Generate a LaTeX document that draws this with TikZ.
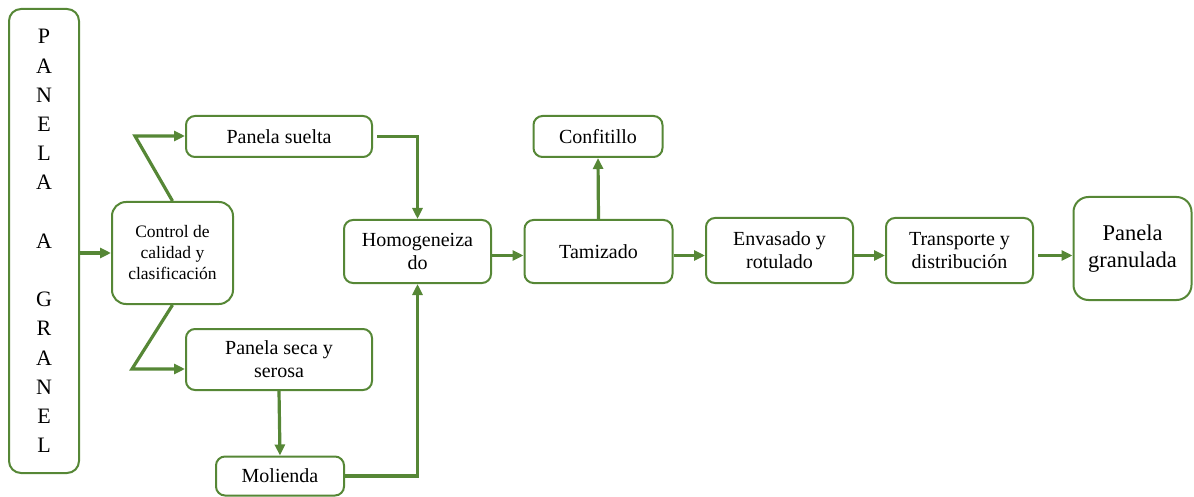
\documentclass[tikz,border=0pt]{standalone}
\usepackage{fontspec}
\setmainfont{Liberation Serif}
\usetikzlibrary{arrows.meta,calc}
\definecolor{gr}{HTML}{568736}
\begin{document}
\begin{tikzpicture}[x=1pt,y=-1pt,
  box/.style={draw=gr, line width=2pt, rounded corners=9pt, fill=white, align=center, inner sep=0pt, font=\fontsize{20}{23}\selectfont},
  arr/.style={draw=gr, line width=3.2pt, -{Triangle[length=11pt,width=10pt]}},
  ln/.style={draw=gr, line width=3.2pt}]
\useasboundingbox (0,0) rectangle (1194,497);
% nodes
\node[box, rounded corners=12pt, minimum width=70pt, minimum height=464pt, font=\fontsize{22}{29.2}\selectfont] (pg0) at (44,241)
  {P\\A\\N\\E\\L\\A\\\mbox{}\\A\\\mbox{}\\G\\R\\A\\N\\E\\L};
\node[box, rounded corners=14pt, minimum width=121pt, minimum height=102pt, font=\fontsize{17.5}{21}\selectfont] (ctrl) at (172.5,253) {Control de\\calidad y\\clasificación};
\node[box, minimum width=186pt, minimum height=41pt] (ps) at (279,136.5) {Panela suelta};
\node[box, minimum width=186pt, minimum height=61pt] (ss) at (279,359.5) {Panela seca y\\serosa};
\node[box, minimum width=128pt, minimum height=39pt] (ml) at (280,476) {Molienda};
\node[box, minimum width=147pt, minimum height=63pt] (hm) at (417.5,251.5) {Homogeneiza\\do};
\node[box, minimum width=129pt, minimum height=41pt] (cf) at (598,136.5) {Confitillo};
\node[box, minimum width=148pt, minimum height=63pt] (tz) at (598.5,251.5) {Tamizado};
\node[box, minimum width=147pt, minimum height=65pt] (ev) at (779.5,250.5) {Envasado y\\rotulado};
\node[box, minimum width=147pt, minimum height=65pt] (tr) at (959.5,250.5) {Transporte y\\distribución};
\node[box, rounded corners=15pt, minimum width=118pt, minimum height=103pt, font=\fontsize{22.5}{27}\selectfont] (pgr) at (1132.5,248.5) {Panela\\granulada};
% connectors
\coordinate (c1) at (135,136);
\coordinate (c2) at (132,369);
\draw[arr] (pg0.east |- ctrl.west) -- (ctrl.west);
\draw[arr] (ctrl.north) -- (c1) -- (ps.west |- c1);
\draw[arr] (ctrl.south) -- (c2) -- (ss.west |- c2);
\draw[arr] ([xshift=4pt]ps.east) -| (hm.north);
\draw[arr] (ss.south) -- (ml.north);
\draw[arr] (ml.east) -| (hm.south);
\coordinate (a1) at ($(hm.east)+(0,4)$);
\draw[arr] (a1) -- (a1 -| tz.west);
\draw[arr] (tz.north) -- (cf.south);
\coordinate (a2) at ($(tz.east)+(0,4)$);
\draw[arr] (a2) -- (a2 -| ev.west);
\coordinate (a3) at ($(ev.east)+(0,5)$);
\draw[arr] (a3) -- (a3 -| tr.west);
\coordinate (a4) at ($(tr.east)+(0,5)$);
\draw[arr] ([xshift=4pt]a4) -- (a4 -| pgr.west);
\end{tikzpicture}
\end{document}
